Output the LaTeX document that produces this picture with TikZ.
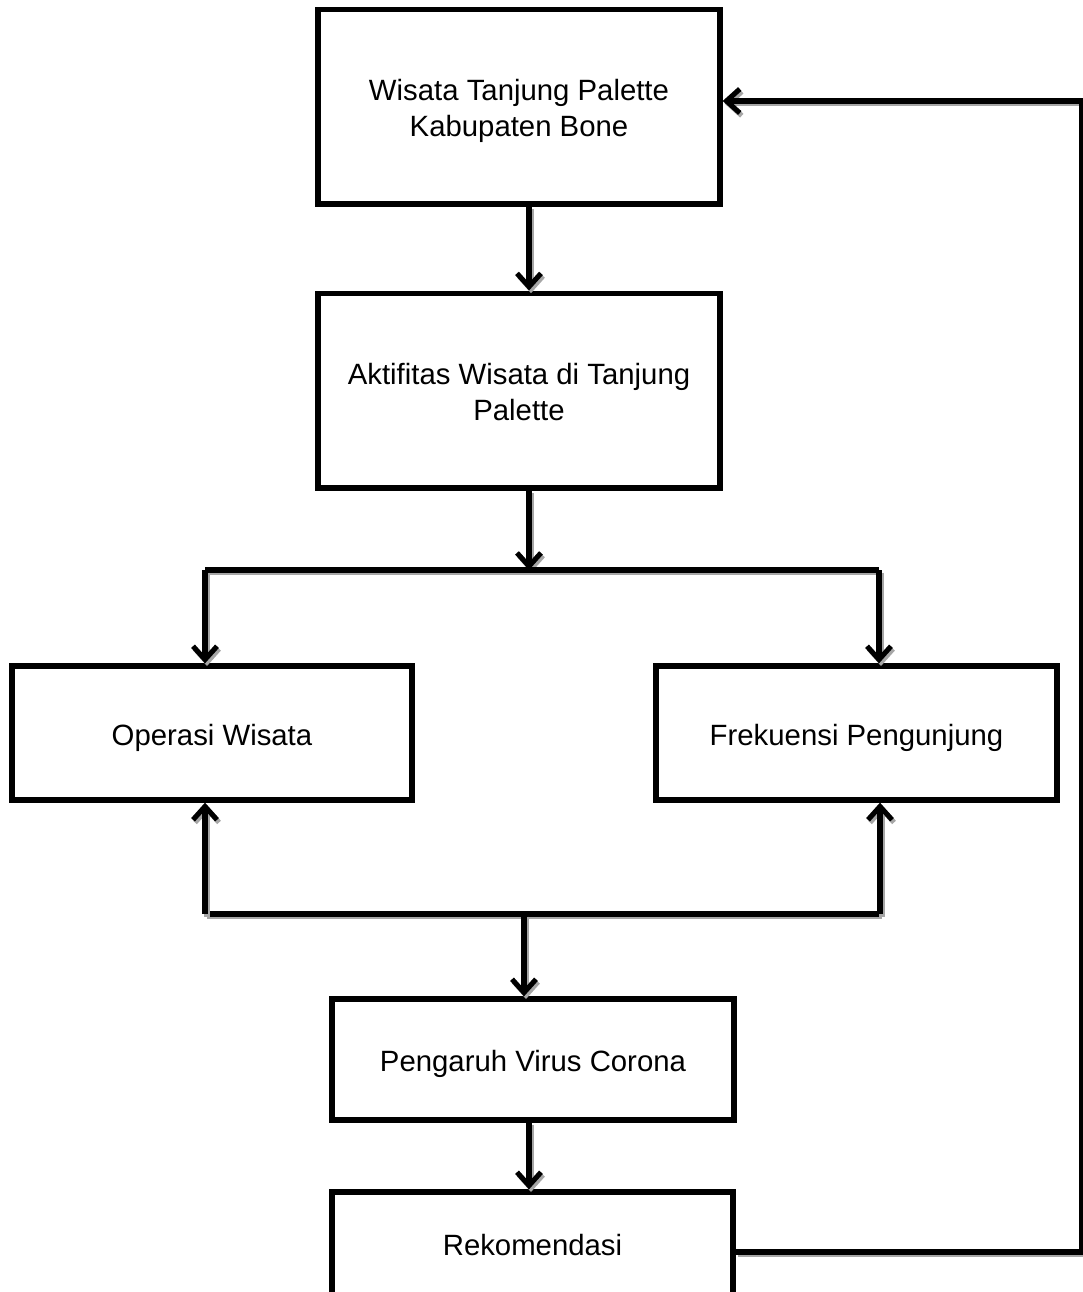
\documentclass[tikz,border=0pt]{standalone}
\usepackage{fontspec}
\setmainfont{Liberation Sans}
\usetikzlibrary{arrows.meta}
\newcommand\boxtext[1]{\raisebox{-3.75pt}[\height][\depth]{\begin{tabular}{@{}c@{}}#1\end{tabular}}}
\begin{document}
\begin{tikzpicture}[x=0.75pt,y=-0.75pt,
  box/.style={draw,line width=4pt,align=center,inner sep=0pt,
    font=\fontsize{22}{26.5}\selectfont},
  conn/.style={line width=3.8pt,line join=miter,
    preaction={draw=black!35,line width=3.8pt,transform canvas={shift={(1.5pt,-2pt)}}}},
  arr/.style={conn,-{Straight Barb[length=10pt,width=18pt]}}]
\useasboundingbox[fill=white] (0,0) rectangle (1082,1292);

\node[box,minimum width=301.5pt,minimum height=146pt] (wisata) at (519,106.5)
  {\boxtext{Wisata Tanjung Palette\\Kabupaten Bone}};
\node[box,minimum width=301.5pt,minimum height=146pt] (aktif) at (519,390.5)
  {\boxtext{Aktifitas Wisata di Tanjung\\Palette}};
\node[box,minimum width=300pt,minimum height=100.5pt] (opw) at (212,733)
  {\boxtext{Operasi Wisata}};
\node[box,minimum width=300.75pt,minimum height=100.5pt] (frek) at (856.5,733)
  {\boxtext{Frekuensi Pengunjung}};
\node[box,minimum width=301.5pt,minimum height=90.75pt] (peng) at (533,1059.5)
  {\boxtext{Pengaruh Virus Corona}};
\node[box,minimum width=300.75pt,minimum height=79.5pt] (rek) at (532.5,1245)
  {Rekomendasi};

\coordinate (c1) at (529,0);
\coordinate (topM) at (529,570);
\coordinate (topL) at (205,570);
\coordinate (topR) at (879,570);
\coordinate (botL) at (205,914);
\coordinate (botR) at (880,914);
\coordinate (botM) at (524,914);
\coordinate (fbB) at (1082,1252);
\coordinate (fbT) at (1082,101);

\draw[arr] (wisata.south -| c1) -- (aktif.north -| c1);
\draw[arr] (aktif.south -| topM) -- (topM);
\draw[conn] (topL) -- (topR);
\draw[arr] (topL) -- (opw.north -| topL);
\draw[arr] (topR) -- (frek.north -| topR);
\draw[conn] (botL) -- (botR);
\draw[arr] (botL) -- (opw.south -| botL);
\draw[arr] (botR) -- (frek.south -| botR);
\draw[arr] (botM) -- (peng.north -| botM);
\draw[arr] (peng.south -| c1) -- (rek.north -| c1);
\draw[arr] (rek.east |- fbB) -- (fbB) -- (fbT) -- (wisata.east |- fbT);
\end{tikzpicture}
\end{document}
